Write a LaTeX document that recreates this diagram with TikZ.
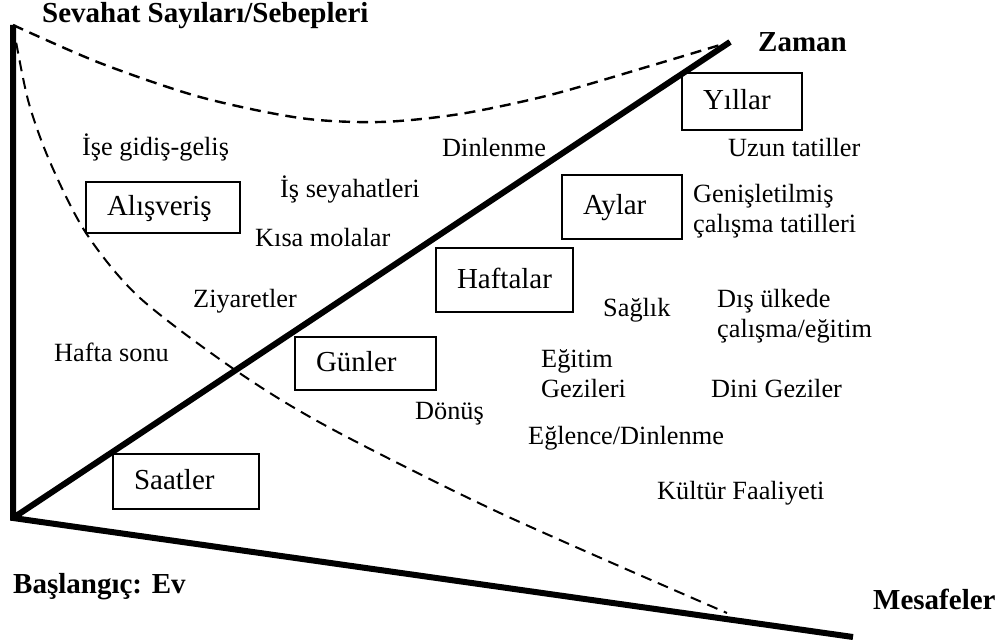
\documentclass[tikz,border=0pt]{standalone}
\usepackage{fontspec}
\setmainfont{Liberation Serif}
\newfontfamily\tnr{Liberation Serif}
\usepackage{tikz}

\tikzset{
  lbl/.style={font=\tnr\fontsize{26.3}{30}\selectfont, inner sep=0pt, anchor=base west},
  ttl/.style={font=\tnr\fontsize{29}{33}\selectfont\bfseries, inner sep=0pt, anchor=base west},
  tbox/.style={draw, line width=1.6pt, font=\tnr\fontsize{29}{33}\selectfont, align=left,
    inner xsep=21pt, inner ysep=0pt, text height=20pt, text depth=4pt},
  axis/.style={line width=6pt},
  guide/.style={dash pattern=on 11pt off 7pt}
}

\begin{document}
\begin{tikzpicture}[x=1pt,y=-1pt]
\useasboundingbox (0,0) rectangle (998,644);
\coordinate (ust) at (13,25);
\coordinate (ev) at (13,518);
\coordinate (zuc) at (730,42);
\coordinate (muc) at (853,637);
\draw[axis, line join=miter] (ust) -- (ev) -- (muc);
\draw[axis] (ev) -- (zuc);
\draw[guide, line width=2.4pt] plot[smooth] coordinates {(ust) (100,63) (200,97) (300,118) (380,122) (460,114) (550,95) (650,66) (zuc)};
\draw[guide, line width=2pt] plot[smooth] coordinates {(ust) (28,100) (50,162) (86,233) (140,298) (238,372) (330,428) (500,513) (727,613)};

\node[ttl] (baslik) at (42,23) {Sevahat Sayıları/Sebepleri};
\node[ttl] (zaman) at (758,52) {Zaman};
\node[ttl] (bas) at (13,593) {Başlangıç: Ev};
\node[ttl] (mesafe) at (873,609) {Mesafeler};

\node[tbox, text width=78pt, minimum height=57pt] (yillar) at (742,101.5) {Yıllar};
\node[tbox, text width=78pt, minimum height=64pt] (aylar) at (622,207) {Aylar};
\node[tbox, text width=95pt, minimum height=64pt] (haftalar) at (504.5,280) {Haftalar};
\node[tbox, text width=99pt, minimum height=53pt] (gunler) at (365.5,363.5) {Günler};
\node[tbox, text width=104pt, minimum height=55pt] (saatler) at (186,481.5) {Saatler};
\node[tbox, text width=112pt, minimum height=51pt] (alisveris) at (163,207.5) {Alışveriş};

\node[lbl] (ise) at (82,156) {İşe gidiş-geliş};
\node[lbl] (isseyahat) at (280,198) {İş seyahatleri};
\node[lbl] (dinlenme) at (442,157) {Dinlenme};
\node[lbl] (kisa) at (255,247) {Kısa molalar};
\node[lbl] (ziyaret) at (193,307) {Ziyaretler};
\node[lbl] (haftasonu) at (54,361) {Hafta sonu};
\node[lbl] (donus) at (415,419) {Dönüş};
\node[lbl] (egitim1) at (541,367) {Eğitim};
\node[lbl] (egitim2) at (541,397) {Gezileri};
\node[lbl] (saglik) at (603,316) {Sağlık};
\node[lbl] (dis1) at (717,307) {Dış ülkede};
\node[lbl] (dis2) at (717,337) {çalışma/eğitim};
\node[lbl] (dini) at (711,397) {Dini Geziler};
\node[lbl] (eglence) at (528,444) {Eğlence/Dinlenme};
\node[lbl] (kultur) at (657,499) {Kültür Faaliyeti};
\node[lbl] (uzun) at (728,157) {Uzun tatiller};
\node[lbl] (genis1) at (693,203) {Genişletilmiş};
\node[lbl] (genis2) at (693,233) {çalışma tatilleri};
\end{tikzpicture}
\end{document}
